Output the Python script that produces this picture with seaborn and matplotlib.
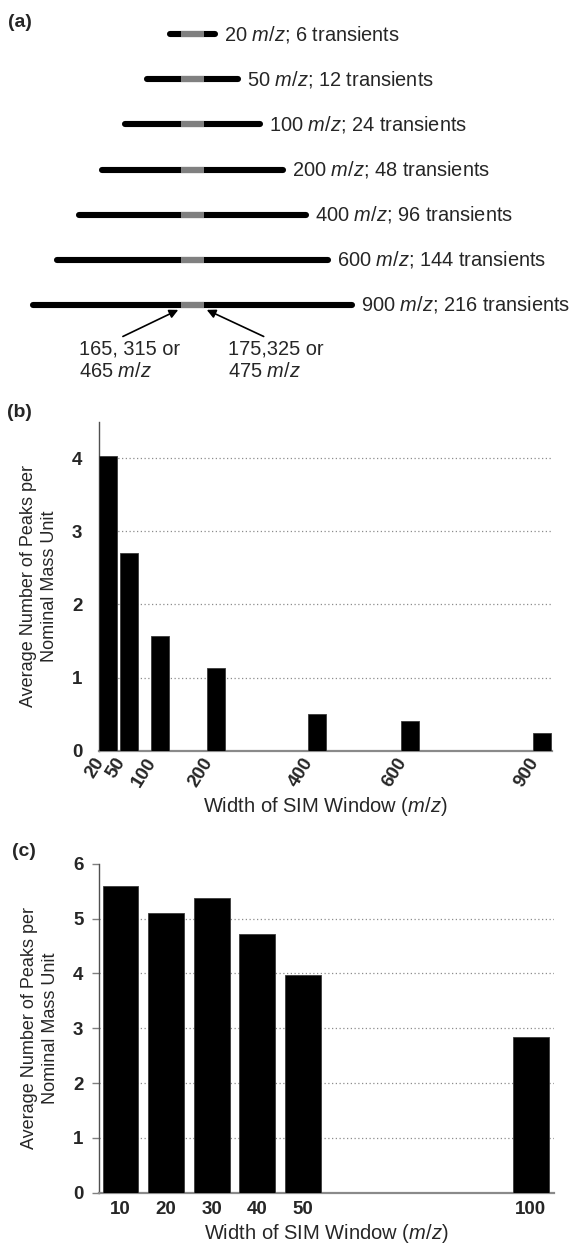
import numpy as np
import pandas as pd
import matplotlib
matplotlib.use("Agg")
import matplotlib.pyplot as plt
from matplotlib.ticker import NullLocator
import seaborn as sns

# ---------------- data ----------------
window_a = [20, 50, 100, 200, 400, 600, 900]
transients_a = [6, 12, 24, 48, 96, 144, 216]
schematic_span_a = [1, 2, 3, 4, 5, 6, 7.05]   # relative half-length drawn for each window
note_left = "165, 315 or\n465 $m/z$"
note_right = "175,325 or\n475 $m/z$"

window_b = [20, 50, 100, 200, 400, 600, 900]
peaks_b = [4.03, 2.70, 1.57, 1.13, 0.50, 0.40, 0.24]
yticks_b = [0, 1, 2, 3, 4]
grid_b = [1, 2, 3, 4]

window_c = [10, 20, 30, 40, 50, 100]
peaks_c = [5.60, 5.10, 5.37, 4.71, 3.97, 2.84]
yticks_c = [0, 1, 2, 3, 4, 5, 6]
grid_c = [1, 2, 3, 4, 5]

ylabel_txt = "Average Number of Peaks per\nNominal Mass Unit"
xlabel_txt = "Width of SIM Window ($m/z$)"

# ---------------- style ----------------
sns.set_style("white")
plt.rcParams.update({
    "font.family": ["Liberation Sans", "DejaVu Sans"],
    "mathtext.fontset": "custom",
    "mathtext.it": "Liberation Sans:italic",
    "mathtext.rm": "Liberation Sans",
    "mathtext.bf": "Liberation Sans:bold",
})

W, H = 574, 1245
fig = plt.figure(figsize=(W / 100, H / 100), dpi=100)
fig.patch.set_facecolor("white")


def px_axes(left, top, right, bottom):
    return fig.add_axes([left / W, 1 - bottom / H, (right - left) / W, (bottom - top) / H])


# ---------------- panel (a) ----------------
ax_a = px_axes(0, 0, W, 400)
unit_x, cx = 22.6, 192.5
unit_y, y0 = 45.1, 34.3
ax_a.set_xlim(-cx / unit_x, (W - cx) / unit_x)
ax_a.set_ylim((400 - y0) / unit_y, -y0 / unit_y)
ax_a.axis("off")

rows = np.arange(len(window_a))
half = np.array(schematic_span_a)
ax_a.hlines(rows, -half, half, colors="black", linewidth=4.4, capstyle="round", zorder=2)
ax_a.hlines(rows, -0.52, 0.52, colors="#808080", linewidth=4.4, capstyle="butt", zorder=3)
for r, h, w, t in zip(rows, half, window_a, transients_a):
    ax_a.annotate(f"{w} $m/z$; {t} transients", xy=(h, r), xytext=(6.5, 0),
                  textcoords="offset points", va="center", ha="left", fontsize=14.4)

last = rows[-1]
ax_a.annotate("", xy=(-0.63, last + 0.11), xytext=(-3.08, last + 0.70),
              arrowprops=dict(arrowstyle="-|>", color="black", lw=1.2, mutation_scale=13,
                              shrinkA=0, shrinkB=0))
ax_a.annotate("", xy=(0.63, last + 0.11), xytext=(3.15, last + 0.70),
              arrowprops=dict(arrowstyle="-|>", color="black", lw=1.2, mutation_scale=13,
                              shrinkA=0, shrinkB=0))
ax_a.text(-5.04, last + 1.23, note_left, ha="left", va="center", fontsize=14.4, linespacing=1.25)
ax_a.text(1.56, last + 1.23, note_right, ha="left", va="center", fontsize=14.4, linespacing=1.25)


def style_bar_axes(ax, yticks, grid, tick_len, ypad, ylabel_x, xlabel_y):
    for s in ("top", "right"):
        ax.spines[s].set_visible(False)
    ax.spines["left"].set_color("#505050")
    ax.spines["left"].set_linewidth(1.0)
    ax.spines["bottom"].set_color("#8a8a8a")
    ax.spines["bottom"].set_linewidth(1.6)
    ax.set_yticks(yticks)
    ax.set_yticklabels([str(v) for v in yticks], fontweight="bold", fontsize=13.5)
    ax.tick_params(axis="y", length=tick_len, width=1, color="#808080", pad=ypad, left=True)
    ax.tick_params(axis="x", length=0)
    for v in grid:
        ax.axhline(v, color="#8c8c8c", ls=(0, (1, 2)), lw=0.9, zorder=0)
    ax.set_ylabel(ylabel_txt, fontsize=13, multialignment="center", linespacing=1.25)
    ax.yaxis.set_label_coords(ylabel_x, 0.5)
    ax.yaxis.label.set_va("center")
    ax.set_xlabel(xlabel_txt, fontsize=14.5)
    ax.xaxis.set_label_coords(0.5, xlabel_y)
    ax.xaxis.label.set_va("center")


# ---------------- panel (b) ----------------
ax_b = px_axes(99, 421.7, 551.7, 750.7)
pw = 0.85
ax_b.set_xscale("function", functions=(lambda x: np.power(np.clip(x, 1e-9, None), pw),
                                       lambda y: np.power(np.clip(y, 0, None), 1 / pw)))
df_b = pd.DataFrame({"width": window_b, "peaks": peaks_b})
sns.barplot(data=df_b, x="width", y="peaks", native_scale=True, width=0.86,
            color="black", saturation=1, edgecolor="#3a3a3a", linewidth=0.6,
            ax=ax_b, zorder=3)
xs = [p.get_x() for p in ax_b.patches]
xe = [p.get_x() + p.get_width() for p in ax_b.patches]
ax_b.set_xlim(min(xs), max(xe) * 1.002)
ax_b.set_ylim(0, 4.5)
ax_b.set_xticks(window_b)
ax_b.xaxis.set_minor_locator(NullLocator())
ax_b.set_xticklabels([str(v) for v in window_b], rotation=58, ha="right", va="top",
                     fontweight="bold", fontsize=13.5)
ax_b.tick_params(axis="x", pad=3)
style_bar_axes(ax_b, yticks_b, grid_b, 0, 12, (39 - 99) / 452.7, -0.17)

# ---------------- panel (c) ----------------
ax_c = px_axes(98.7, 863.7, 554, 1192.7)
df_c = pd.DataFrame({"width": window_c, "peaks": peaks_c})
sns.barplot(data=df_c, x="width", y="peaks", native_scale=True, width=0.785,
            color="black", saturation=1, edgecolor="#3a3a3a", linewidth=0.6,
            ax=ax_c, zorder=3)
ax_c.set_xlim(5.2, 105.1)
ax_c.set_ylim(0, 6)
ax_c.set_xticks(window_c)
ax_c.set_xticklabels([str(v) for v in window_c], fontweight="bold", fontsize=13.5)
ax_c.tick_params(axis="x", pad=6)
style_bar_axes(ax_c, yticks_c, grid_c, 5, 6, (40 - 98.7) / 455.3, -0.1245)

# panel letters
for lab, x, y in (("(a)", 8, 22.5), ("(b)", 7, 412), ("(c)", 12, 851)):
    fig.text(x / W, 1 - y / H, lab, fontweight="bold", fontsize=14, ha="left", va="center")

fig.savefig("out.png", dpi=100, facecolor="white")
